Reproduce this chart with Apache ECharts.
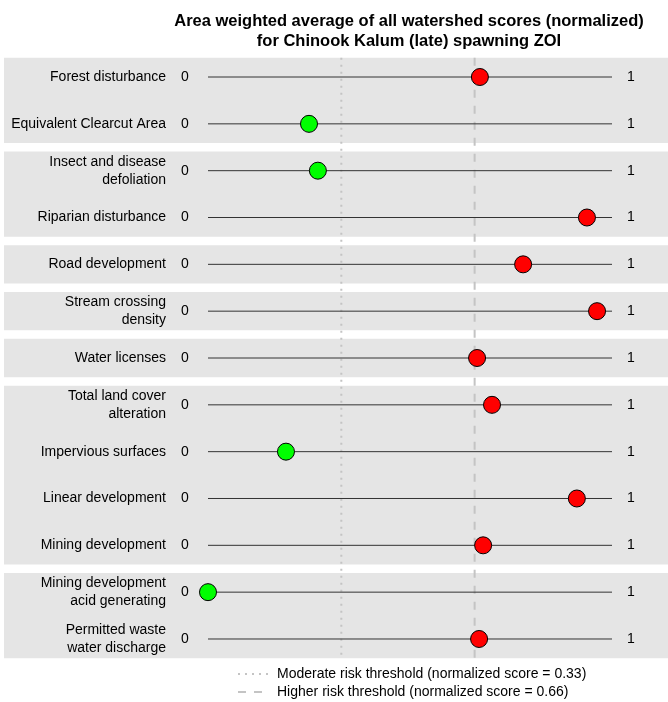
<!DOCTYPE html>
<html>
<head>
<meta charset="utf-8">
<script src="https://cdn.jsdelivr.net/npm/echarts@6/dist/echarts.min.js"></script>
<style>html,body{margin:0;padding:0;background:#fff}#c{width:668px;height:702px}</style>
</head>
<body>
<div id="c"></div>
<script>
const categories = [
  "Forest disturbance",
  "Equivalent Clearcut Area",
  "Insect and disease\ndefoliation",
  "Riparian disturbance",
  "Road development",
  "Stream crossing\ndensity",
  "Water licenses",
  "Total land cover\nalteration",
  "Impervious surfaces",
  "Linear development",
  "Mining development",
  "Mining development\nacid generating",
  "Permitted waste\nwater discharge"
];
const scores = [0.673, 0.250, 0.272, 0.938, 0.780, 0.963, 0.666, 0.703, 0.193, 0.913, 0.681, 0.000, 0.671];
const groups = [[0, 1], [2, 3], [4, 4], [5, 5], [6, 6], [7, 10], [11, 12]];
const thresholds = [0.33, 0.66];
const thresholdLabels = [
  "Moderate risk threshold (normalized score = 0.33)",
  "Higher risk threshold (normalized score = 0.66)"
];
const axisEndLabels = ["0", "1"];
const titleLines = [
  "Area weighted average of all watershed scores (normalized)",
  "for Chinook Kalum (late) spawning ZOI"
];

const FONT = "Liberation Sans, Arial, sans-serif";
const chart = echarts.init(document.getElementById('c'), null, {renderer: 'canvas'});

function scoreColor(v) {
  if (v >= thresholds[1]) return '#ff0000';
  if (v < thresholds[0]) return '#00ff00';
  return '#ffa500';
}

const option = {
  animation: false,
  backgroundColor: '#ffffff',
  title: {
    text: titleLines.join('\n'),
    left: 404,
    textAlign: 'center',
    top: 6,
    textStyle: {fontFamily: FONT, fontSize: 16.5, fontWeight: 'bold', color: '#000', lineHeight: 20}
  },
  grid: {left: 208, right: 56, top: 53.6, bottom: 39.6},
  xAxis: {type: 'value', min: 0, max: 1, show: false},
  yAxis: {
    type: 'category', data: categories, inverse: true,
    axisLine: {show: false}, axisTick: {show: false}, splitLine: {show: false},
    axisLabel: {margin: 42, fontFamily: FONT, fontSize: 14, color: '#000', lineHeight: 18, align: 'right'}
  },
  series: [
    {
      type: 'custom', name: 'bands', z: 0, silent: true,
      data: groups,
      renderItem: function (params, api) {
        const s = api.value(0), e = api.value(1);
        const h = api.size([0, 1])[1];
        const y0 = api.coord([0, s])[1] - 0.41 * h;
        const y1 = api.coord([0, e])[1] + 0.41 * h;
        return {type: 'rect', shape: {x: 4, y: y0, width: 664, height: y1 - y0},
                style: {fill: '#e5e5e5'}};
      }
    },
    {
      type: 'custom', name: 'thresholds', z: 1, silent: true,
      data: thresholds.map((t, i) => [t, i]),
      renderItem: function (params, api) {
        const t = api.value(0), i = api.value(1);
        const h = api.size([0, 1])[1];
        const x = api.coord([t, 0])[0];
        const y0 = api.coord([t, 0])[1] - 0.41 * h;
        const y1 = api.coord([t, categories.length - 1])[1] + 0.41 * h;
        return {type: 'line', shape: {x1: x, y1: y0, x2: x, y2: y1},
                style: {stroke: '#c4c4c4', lineWidth: 2, lineDash: i === 0 ? [2, 5] : [8, 8]}};
      }
    },
    {
      type: 'custom', name: 'rows', z: 2, silent: true,
      data: categories.map((c, i) => [0, i]),
      renderItem: function (params, api) {
        const i = api.value(1);
        const p0 = api.coord([0, i]);
        const p1 = api.coord([1, i]);
        return {type: 'group', children: [
          {type: 'line', shape: {x1: p0[0], y1: p0[1], x2: p1[0], y2: p1[1]},
           style: {stroke: '#333', lineWidth: 1}},
          {type: 'text', style: {text: axisEndLabels[0], x: p0[0] - 23, y: p0[1], align: 'center', verticalAlign: 'middle',
            font: '14px ' + FONT, fill: '#000'}},
          {type: 'text', style: {text: axisEndLabels[1], x: p1[0] + 19, y: p1[1], align: 'center', verticalAlign: 'middle',
            font: '14px ' + FONT, fill: '#000'}}
        ]};
      }
    },
    {
      type: 'scatter', name: 'scores', z: 3,
      symbol: 'circle', symbolSize: 17,
      data: scores.map((v, i) => ({value: [v, i], itemStyle: {color: scoreColor(v)}})),
      itemStyle: {borderColor: '#000', borderWidth: 1, opacity: 1}
    }
  ],
  graphic: [
    {type: 'line', shape: {x1: 238, y1: 674, x2: 268, y2: 674}, style: {stroke: '#c4c4c4', lineWidth: 2, lineDash: [2, 5]}},
    {type: 'text', left: 277, top: 667, style: {text: thresholdLabels[0], font: '14px ' + FONT, fill: '#000'}},
    {type: 'line', shape: {x1: 238, y1: 692, x2: 268, y2: 692}, style: {stroke: '#c4c4c4', lineWidth: 2, lineDash: [8, 8]}},
    {type: 'text', left: 277, top: 685, style: {text: thresholdLabels[1], font: '14px ' + FONT, fill: '#000'}}
  ]
};
chart.setOption(option);
</script>
</body>
</html>
